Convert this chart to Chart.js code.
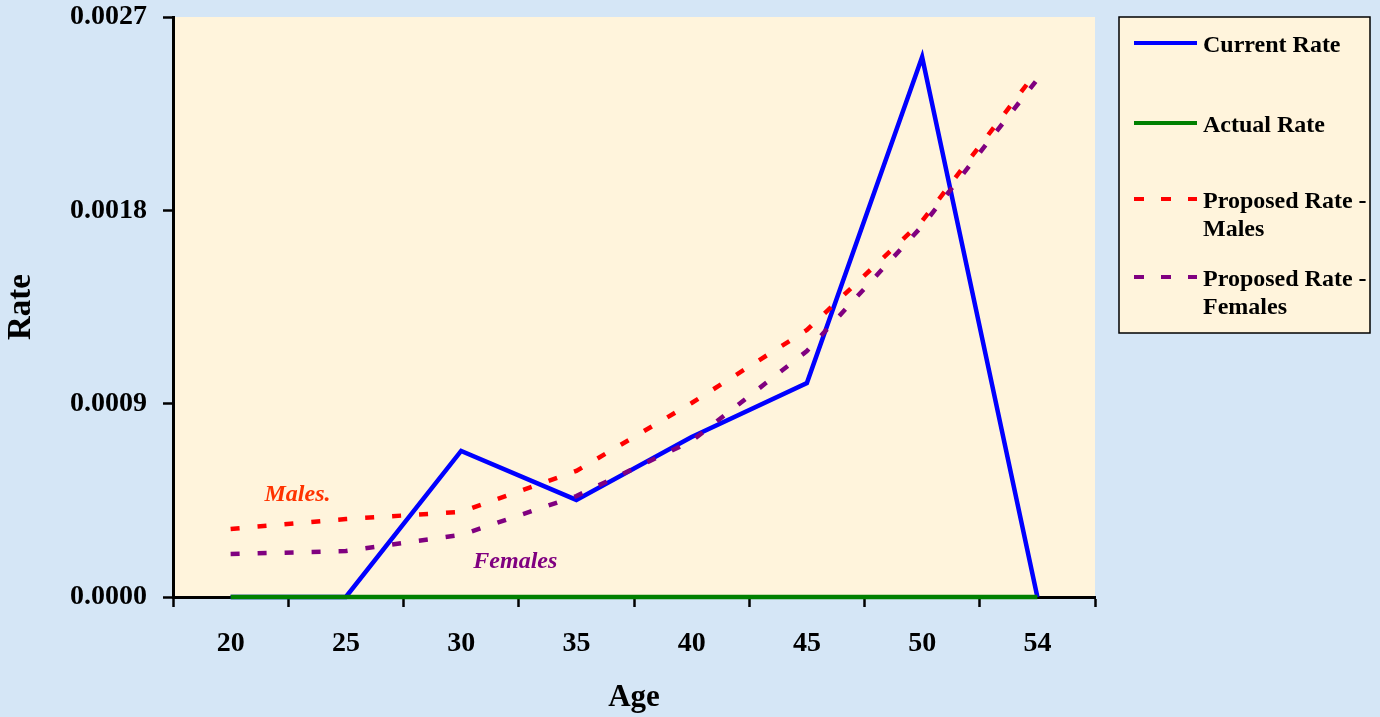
<!DOCTYPE html>
<html>
<head>
<meta charset="utf-8">
<script src="https://cdn.jsdelivr.net/npm/chart.js@4.4.1/dist/chart.umd.min.js"></script>
<style>
html,body{margin:0;padding:0;background:#d5e6f6;}
#wrap{width:1380px;height:717px;position:relative;}
</style>
</head>
<body>
<div id="wrap"><canvas id="rateChart" width="1380" height="717"></canvas></div>
<script>

// data
const ages = ["20","25","30","35","40","45","50","54"];
const currentRate = [0, 0, 0.00068, 0.000452, 0.000745, 0.000996, 0.002514, 0];
const actualRate = [0, 0, 0, 0, 0, 0, 0, 0];
const proposedMales = [0.000317, 0.000363, 0.000396, 0.000587, 0.000903, 0.001243, 0.00175, 0.00245];
const proposedFemales = [0.0002, 0.000214, 0.000289, 0.00047, 0.000726, 0.001145, 0.001727, 0.00241];
const rateTicks = [0, 0.0009, 0.0018, 0.0027];

// text notes inside the plot (x = category index, y = rate)
const noteText = ["Males.", "Females"];
const noteX = [0.58, 2.47];
const noteY = [0.000475, 0.000165];
const noteColor = ["#ff3300", "#800080"];

const serif = "'Liberation Serif', 'Times New Roman', serif";

const plotBackground = {
  id: "plotBackground",
  beforeDraw(chart){
    const a = chart.chartArea;
    const ctx = chart.ctx;
    ctx.save();
    ctx.fillStyle = "#fff4dc";
    ctx.fillRect(a.left, a.top, a.right - a.left, a.bottom - a.top);
    ctx.restore();
  }
};

const notes = {
  id: "notes",
  afterDatasetsDraw(chart){
    const ctx = chart.ctx;
    const xs = chart.scales.x;
    const ys = chart.scales.y;
    ctx.save();
    ctx.font = "italic bold 24px " + serif;
    ctx.textAlign = "center";
    ctx.textBaseline = "middle";
    noteText.forEach((t, i)=>{
      ctx.fillStyle = noteColor[i];
      ctx.fillText(t, xs.getPixelForValue(noteX[i]), ys.getPixelForValue(noteY[i]));
    });
    ctx.restore();
  }
};

// legend box on the right, labels wrapped like the original
const sideLegend = {
  id: "sideLegend",
  afterDraw(chart){
    const ctx = chart.ctx;
    const box = {x:1119, y:17, w:251, h:316};
    const rows = [43, 123, 199, 277];
    ctx.save();
    ctx.fillStyle = "#fff4dc";
    ctx.fillRect(box.x, box.y, box.w, box.h);
    ctx.strokeStyle = "#000";
    ctx.lineWidth = 1.5;
    ctx.strokeRect(box.x, box.y, box.w, box.h);
    ctx.font = "bold 24px " + serif;
    ctx.textBaseline = "alphabetic";
    ctx.textAlign = "left";
    chart.data.datasets.forEach((ds, i)=>{
      const y = rows[i];
      ctx.strokeStyle = ds.borderColor;
      ctx.lineWidth = 4;
      ctx.setLineDash(ds.borderDash ? [10,17] : []);
      ctx.beginPath();
      ctx.moveTo(1134, y);
      ctx.lineTo(1197, y);
      ctx.stroke();
      ctx.setLineDash([]);
      // word wrap
      const words = ds.label.split(" ");
      let lines = [];
      let cur = "";
      words.forEach(w=>{
        const test = cur ? cur + " " + w : w;
        if(ctx.measureText(test).width > 168 && cur){
          lines.push(cur);
          cur = w;
        }else{
          cur = test;
        }
      });
      lines.push(cur);
      ctx.fillStyle = "#000";
      lines.forEach((l, k)=>{
        ctx.fillText(l, 1203, y + 9 + k*28);
      });
    });
    ctx.restore();
  }
};

const ctx = document.getElementById("rateChart");

new Chart(ctx, {
  type: "line",
  data: {
    labels: ages,
    datasets: [
      {
        label: "Current Rate",
        data: currentRate,
        borderColor: "#0000ff",
        borderWidth: 4.5,
        pointRadius: 0,
        tension: 0,
        clip: 8,
        order: 4
      },
      {
        label: "Actual Rate",
        data: actualRate,
        borderColor: "#008000",
        borderWidth: 4.5,
        pointRadius: 0,
        tension: 0,
        clip: 8,
        order: 3
      },
      {
        label: "Proposed Rate - Males",
        data: proposedMales,
        borderColor: "#ff0000",
        borderWidth: 4.5,
        borderDash: [9,18],
        pointRadius: 0,
        tension: 0,
        clip: 8,
        order: 2
      },
      {
        label: "Proposed Rate - Females",
        data: proposedFemales,
        borderColor: "#800080",
        borderWidth: 4.5,
        borderDash: [9,18],
        pointRadius: 0,
        tension: 0,
        clip: 8,
        order: 1
      }
    ]
  },
  options: {
    responsive: false,
    animation: false,
    layout: {
      padding: {left:0, top:17, right:285, bottom:0}
    },
    plugins: {
      legend: {display:false},
      tooltip: {enabled:false}
    },
    scales: {
      x: {
        offset: true,
        grid: {
          display: true,
          offset: true,
          drawOnChartArea: false,
          drawTicks: true,
          tickLength: 10,
          tickWidth: 2.5,
          tickColor: "#000"
        },
        border: {display:true, color:"#000", width:3},
        ticks: {
          color: "#000",
          padding: 20,
          maxRotation: 0,
          font: {family: serif, size: 28, weight: "bold"}
        },
        title: {
          display: true,
          text: "Age",
          color: "#000",
          padding: {top:0, bottom:0},
          font: {family: serif, size: 31, weight: "bold"}
        },
        afterFit(scale){
          scale.height = 120;
        }
      },
      y: {
        min: 0,
        max: 0.0027,
        grid: {
          display: true,
          drawOnChartArea: false,
          drawTicks: true,
          tickLength: 10,
          tickWidth: 2.5,
          tickColor: "#000"
        },
        border: {display:true, color:"#000", width:3},
        ticks: {
          color: "#000",
          padding: 16,
          font: {family: serif, size: 28, weight: "bold"},
          callback: v => Number(v).toFixed(4)
        },
        afterBuildTicks(scale){
          scale.ticks = rateTicks.map(v=>({value:v}));
        },
        title: {
          display: true,
          text: "Rate",
          color: "#000",
          padding: {top:2, bottom:0},
          font: {family: serif, size: 33, weight: "bold"}
        },
        afterFit(scale){
          scale.width = 173;
          scale.paddingTop = 0;
          scale.paddingBottom = 0;
        }
      }
    }
  },
  plugins: [plotBackground, notes, sideLegend]
});

</script>
</body>
</html>
